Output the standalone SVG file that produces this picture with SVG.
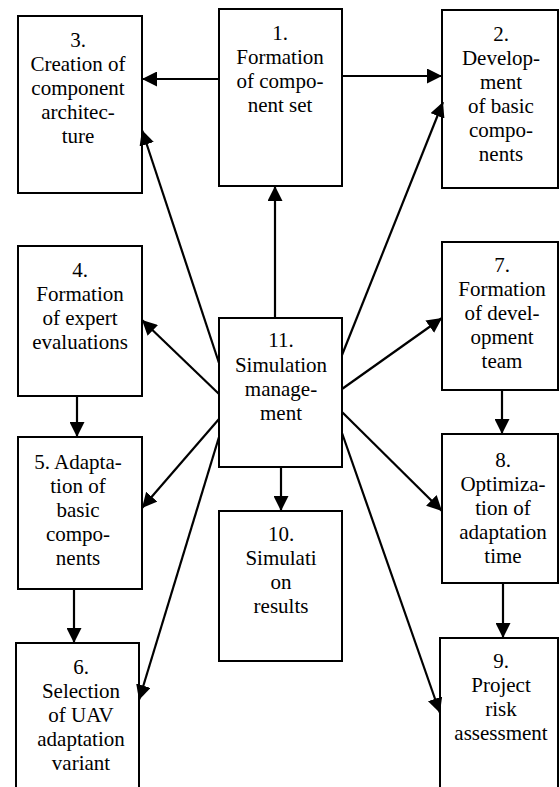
<svg xmlns="http://www.w3.org/2000/svg" width="560" height="787" viewBox="0 0 560 787">
<defs>
<marker id="ah" markerUnits="userSpaceOnUse" markerWidth="15" markerHeight="15" refX="15" refY="7.5" orient="auto">
<path d="M0,0 L15,7.5 L0,15 z" fill="#000"/>
</marker>
</defs>
<rect width="560" height="787" fill="#fff"/>
<g id="nodes" fill="#fff" stroke="#000" stroke-width="2">
<g id="n1"><rect x="219" y="9" width="123" height="177"/></g>
<g id="n2"><rect x="442" y="10" width="116" height="178"/></g>
<g id="n3"><rect x="18" y="16" width="124" height="177"/></g>
<g id="n4"><rect x="18" y="246" width="124" height="150"/></g>
<g id="n5"><rect x="18" y="437" width="124" height="152"/></g>
<g id="n6"><rect x="16" y="643" width="123" height="160"/></g>
<g id="n7"><rect x="442" y="242" width="116" height="148"/></g>
<g id="n8"><rect x="442" y="434" width="116" height="149"/></g>
<g id="n9"><rect x="440" y="638" width="118" height="160"/></g>
<g id="n10"><rect x="219" y="511" width="123" height="150"/></g>
<g id="n11"><rect x="219" y="318" width="123" height="149"/></g>
</g>
<g id="labels" font-family="Liberation Serif" font-size="21" fill="#000" text-anchor="middle">
<g id="l1"><text x="280" y="40">1.</text><text x="280" y="64">Formation</text><text x="280" y="88">of compo-</text><text x="280" y="112">nent set</text></g>
<g id="l2"><text x="501" y="41">2.</text><text x="501" y="65">Develop-</text><text x="501" y="89">ment</text><text x="501" y="113">of basic</text><text x="501" y="137">compo-</text><text x="501" y="161">nents</text></g>
<g id="l3"><text x="78" y="47">3.</text><text x="78" y="71">Creation of</text><text x="78" y="95">component</text><text x="78" y="119">architec-</text><text x="78" y="143">ture</text></g>
<g id="l4"><text x="80" y="277">4.</text><text x="80" y="301">Formation</text><text x="80" y="325">of expert</text><text x="80" y="349">evaluations</text></g>
<g id="l5"><text x="78" y="469">5. Adapta-</text><text x="78" y="493">tion of</text><text x="78" y="517">basic</text><text x="78" y="541">compo-</text><text x="78" y="565">nents</text></g>
<g id="l6"><text x="81" y="674">6.</text><text x="81" y="698">Selection</text><text x="81" y="722">of UAV</text><text x="81" y="746">adaptation</text><text x="81" y="770">variant</text></g>
<g id="l7"><text x="502" y="272">7.</text><text x="502" y="296">Formation</text><text x="502" y="320">of devel-</text><text x="502" y="344">opment</text><text x="502" y="368">team</text></g>
<g id="l8"><text x="503" y="467">8.</text><text x="503" y="491">Optimiza-</text><text x="503" y="515">tion of</text><text x="503" y="539">adaptation</text><text x="503" y="563">time</text></g>
<g id="l9"><text x="501" y="668">9.</text><text x="501" y="692">Project</text><text x="501" y="716">risk</text><text x="501" y="740">assessment</text></g>
<g id="l10"><text x="281" y="541">10.</text><text x="281" y="565">Simulati</text><text x="281" y="589">on</text><text x="281" y="613">results</text></g>
<g id="l11"><text x="281" y="347">11.</text><text x="281" y="372">Simulation</text><text x="281" y="396">manage-</text><text x="281" y="420">ment</text></g>
</g>
<g id="connectors" stroke="#000" stroke-width="2.2" marker-end="url(#ah)">
<line x1="219" y1="79" x2="142" y2="79"/>
<line x1="342" y1="76" x2="442" y2="76"/>
<line x1="275" y1="318" x2="275" y2="186"/>
<line x1="219" y1="363" x2="142" y2="130"/>
<line x1="342" y1="355" x2="443" y2="102"/>
<line x1="219" y1="394" x2="142" y2="320"/>
<line x1="77" y1="396" x2="77" y2="437"/>
<line x1="219" y1="419" x2="142" y2="508"/>
<line x1="219" y1="437" x2="139" y2="700"/>
<line x1="74" y1="589" x2="74" y2="643"/>
<line x1="281" y1="467" x2="281" y2="511"/>
<line x1="342" y1="389" x2="442" y2="318"/>
<line x1="342" y1="412" x2="442" y2="511"/>
<line x1="342" y1="433" x2="440" y2="713"/>
<line x1="502" y1="390" x2="502" y2="434"/>
<line x1="503" y1="583" x2="503" y2="638"/>
</g>
</svg>
